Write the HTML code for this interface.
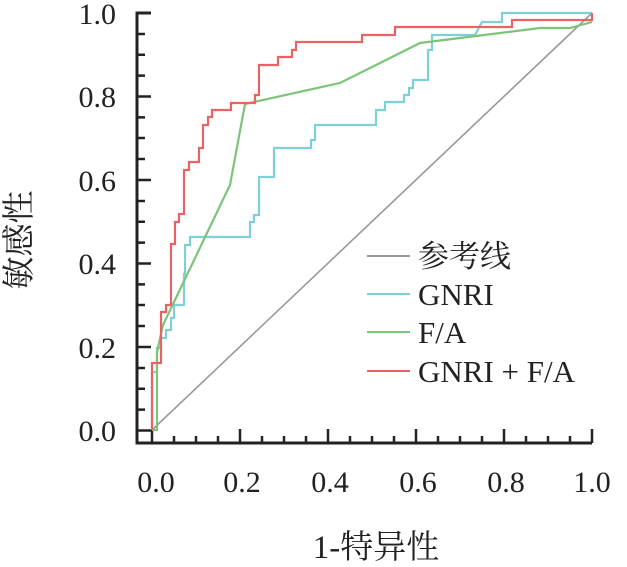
<!DOCTYPE html>
<html><head><meta charset="utf-8"><style>body{margin:0;background:#fff}svg{display:block}</style></head><body>
<svg width="627" height="567" viewBox="0 0 627 567" xmlns="http://www.w3.org/2000/svg" font-family="'Liberation Serif','Noto Serif CJK SC',serif">
<rect width="627" height="567" fill="#fff"/>
<g stroke="#222" stroke-width="3" fill="none">
<path d="M151 13 H137 V443 H592"/>
</g>
<g stroke="#222" stroke-width="2.5">
<path d="M137 430.5h14M137 347h14M137 263.5h14M137 180h14M137 96.5h14"/>
<path d="M137 409.6h8M137 388.8h8M137 368h8M137 326h8M137 305h8M137 284.4h8M137 242.6h8M137 221.8h8M137 201h8M137 159h8M137 138h8M137 117.4h8M137 75.6h8M137 54.8h8M137 34h8"/>
<path d="M152 443v-14M240 443v-14M328 443v-14M416 443v-14M504 443v-14M592 443v-14"/>
<path d="M174 443v-7M196 443v-7M218 443v-7M262 443v-7M284 443v-7M306 443v-7M350 443v-7M372 443v-7M394 443v-7M438 443v-7M460 443v-7M482 443v-7M526 443v-7M548 443v-7M570 443v-7"/>
</g>
<g font-size="30" fill="#222" text-anchor="end">
<text x="116" y="24">1.0</text><text x="116" y="107">0.8</text><text x="116" y="191">0.6</text><text x="116" y="274">0.4</text><text x="116" y="358">0.2</text><text x="116" y="441">0.0</text>
</g>
<g font-size="30" fill="#222" text-anchor="middle">
<text x="156" y="492">0.0</text><text x="242" y="492">0.2</text><text x="330" y="492">0.4</text><text x="418" y="492">0.6</text><text x="506" y="492">0.8</text><text x="592" y="492">1.0</text>
</g>
<text x="376" y="558" font-size="33" fill="#222" text-anchor="middle">1-特异性</text>
<text transform="translate(30,240) rotate(-90)" font-size="33" fill="#222" text-anchor="middle">敏感性</text>
<line x1="152" y1="430" x2="592" y2="13" stroke="#999" stroke-width="1.6"/>
<path fill="none" stroke="#7fcfd6" stroke-width="2.2" d="M152 430V372H157V348H161V338H166V330H171V318H174V305H184V274H185V245H190V237H250V222H254V215H259V177H274V148H311V140H315V125H376V110H385V102H404V95H409V88H413V80H428V50H432V35H475L482 22H502V13H592"/>
<path fill="none" stroke="#7cc47a" stroke-width="2.2" d="M152 430H157V352L163 325L230 185L245 104L340 83L420 43L540 28H570L592 22"/>
<path fill="none" stroke="#e86464" stroke-width="2.2" d="M152 430V363H161V312H166V305H171V244H175V222H179V214H184V170H189V162H199V148H203V125H208V117H212V110H231V103H255V95H259V65H278V57H292V50H296V42H362V35H395V27H512V20H592V13"/>
<g stroke-width="2">
<line x1="367" y1="256" x2="410" y2="256" stroke="#999"/>
<line x1="367" y1="294" x2="410" y2="294" stroke="#7fcfd6"/>
<line x1="367" y1="332" x2="410" y2="332" stroke="#7cc47a"/>
<line x1="367" y1="371" x2="410" y2="371" stroke="#e86464"/>
</g>
<g font-size="31" fill="#222">
<text x="418" y="267">参考线</text><text x="418" y="305">GNRI</text><text x="418" y="343">F/A</text><text x="418" y="382">GNRI + F/A</text>
</g>
</svg>
</body></html>
